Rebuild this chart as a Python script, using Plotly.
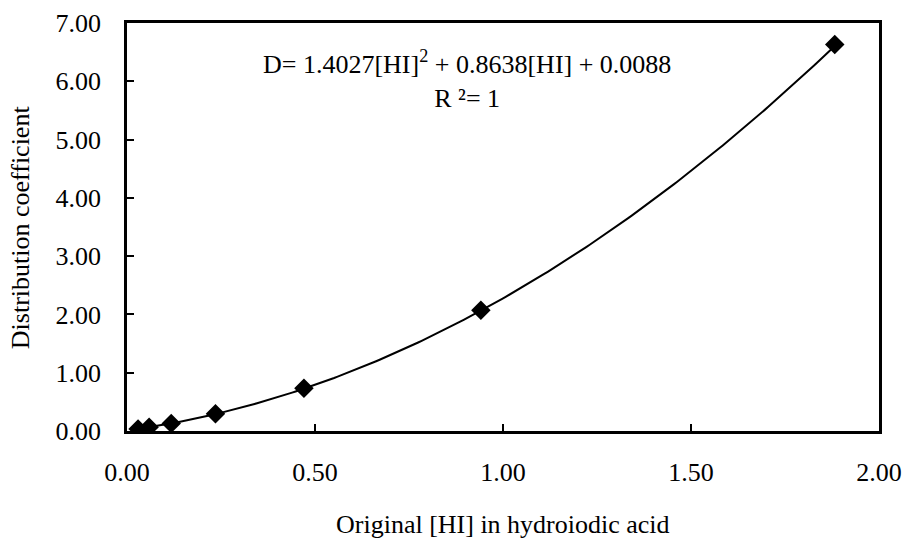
import numpy as np
import plotly.graph_objects as go

# Measured distribution coefficients vs. original HI concentration
hi_conc = [0.0294, 0.0588, 0.1176, 0.2353, 0.4706, 0.9412, 1.8824]
dist_coef = [0.036, 0.066, 0.130, 0.295, 0.735, 2.07, 6.63]

# Second-order polynomial trendline coefficients (a*x^2 + b*x + c)
fit_a, fit_b, fit_c = 1.4027, 0.8638, 0.0088

x_ticks = [0.0, 0.5, 1.0, 1.5, 2.0]
y_ticks = [0, 1, 2, 3, 4, 5, 6, 7]

FONT = "Liberation Serif, Times New Roman, serif"
FS = 26

x_fit = np.linspace(min(hi_conc), max(hi_conc), 200)
y_fit = fit_a * x_fit**2 + fit_b * x_fit + fit_c

fig = go.Figure()
fig.add_trace(go.Scatter(
    x=x_fit, y=y_fit, mode="lines",
    line=dict(color="black", width=2), hoverinfo="skip", showlegend=False,
))
fig.add_trace(go.Scatter(
    x=hi_conc, y=dist_coef, mode="markers",
    marker=dict(symbol="diamond", size=15, color="black"),
    showlegend=False,
))

axis_common = dict(
    showline=True, linecolor="black", linewidth=2.5, mirror=True,
    ticks="inside", ticklen=7, tickwidth=2, tickcolor="black",
    showgrid=False, zeroline=False, automargin=False,
    tickfont=dict(family=FONT, size=FS, color="black"),
)

fig.update_xaxes(
    range=[0, 2], tickvals=x_ticks,
    ticktext=[f"{v:.2f}" for v in x_ticks],
    ticklabelstandoff=16,
    **axis_common,
)
fig.update_yaxes(
    range=[0, 7], tickvals=y_ticks,
    ticktext=[f"{v:.2f}" for v in y_ticks],
    ticklabelstandoff=18,
    **axis_common,
)

fig.add_annotation(
    xref="paper", yref="paper", x=0.5, y=-0.228,
    text="Original [HI] in hydroiodic acid", showarrow=False,
    xanchor="center", yanchor="middle",
    font=dict(family=FONT, size=FS, color="black"),
)
fig.add_annotation(
    xref="paper", yref="paper", x=-0.142, y=0.5,
    text="Distribution coefficient", showarrow=False, textangle=-90,
    xanchor="center", yanchor="middle",
    font=dict(family=FONT, size=FS, color="black"),
)
fig.add_annotation(
    xref="paper", yref="paper", x=0.452, y=0.948,
    text=f"D= {fit_a:.4f}[HI]<sup>2</sup> + {fit_b:.4f}[HI] + {fit_c:.4f}<br>R ²= 1",
    showarrow=False, xanchor="center", yanchor="top", align="center",
    font=dict(family=FONT, size=FS, color="black"),
)

fig.update_layout(
    width=906, height=538,
    margin=dict(l=127, r=27, t=23, b=107),
    paper_bgcolor="white", plot_bgcolor="white",
)

fig.write_html("out.html")
